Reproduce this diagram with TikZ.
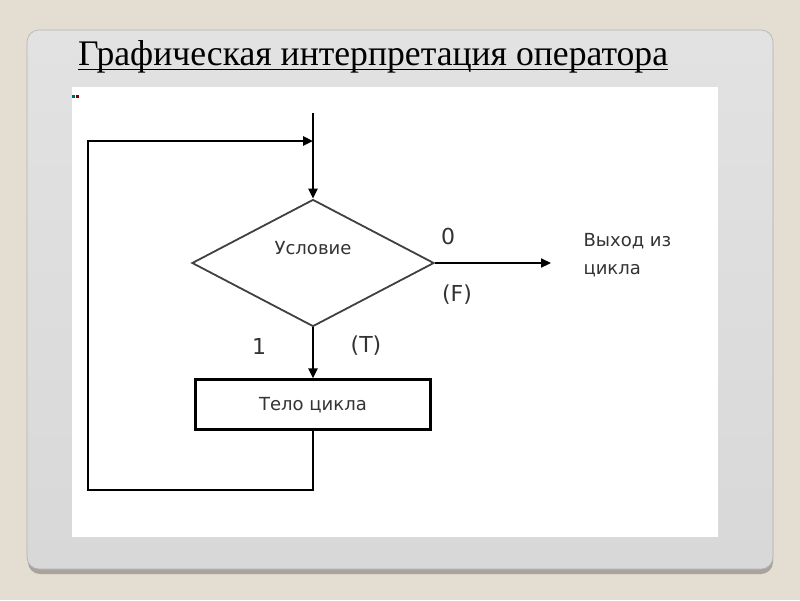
\documentclass[tikz,border=0pt]{standalone}
\usepackage{fontspec}
\setmainfont{Liberation Serif}
\newfontfamily\diagfont{DejaVu Sans}
\usetikzlibrary{shapes.geometric, arrows.meta, positioning, calc}
\definecolor{pagebg}{HTML}{E4DDD2}
\definecolor{panelshadow}{HTML}{A8A49C}
\definecolor{paneltop}{HTML}{E2E2E2}
\definecolor{panelbot}{HTML}{D8D8D8}

\begin{document}
\begin{tikzpicture}[
    x=1pt, y=-1pt,
    every node/.style={font=\diagfont\fontsize{18}{28}\selectfont, text=black!80},
    cond/.style={diamond, draw=black!75, line width=1.8pt,
                 minimum width=242pt, minimum height=127pt, inner sep=0pt},
    block/.style={rectangle, draw=black, line width=2.6pt,
                  minimum width=235pt, minimum height=50pt, inner sep=0pt},
    lbl/.style={font=\diagfont\fontsize{22}{24}\selectfont},
    arr/.style={-{Triangle[length=10pt, width=9pt]}, line width=2.2pt, black},
    line/.style={line width=2.6pt, black}
  ]
  % slide background
  \useasboundingbox (0,0) rectangle (800,600);
  \fill[pagebg] (0,0) rectangle (800,600);
  \fill[panelshadow, rounded corners=12pt] (28,36) rectangle (773,574);
  \shade[top color=paneltop, bottom color=panelbot, rounded corners=12pt,
         draw=black!30, line width=0.6pt] (27,30) rectangle (773,569);
  \fill[white] (72,87) rectangle (718,537);
  \fill[teal!80!black] (72,95) rectangle (75,98);
  \fill[red!50!black] (76,95) rectangle (79,98);

  % title
  \node[anchor=base west, inner sep=0pt, text=black,
        font=\fontsize{36}{40}\selectfont] (title) at (78,65)
        {\scalebox{0.99}[1]{Графическая интерпретация оператора}};
  \draw[line width=1.8pt] ([yshift=-4.5pt]title.base west)
        -- ([yshift=-4.5pt]title.base east);

  % flowchart
  \node[cond] (cond) at (313,263) {};
  \node (condtxt) at ([yshift=15pt]cond.center) {Условие};
  \node[block, below=51pt of cond] (body) {Тело цикла};

  \coordinate (entry)  at (313,113);
  \coordinate (exit)   at (551,263);
  \coordinate (loopbl) at (88,490);
  \coordinate (looptl) at (88,141);

  \node[anchor=north west, align=left] (exittxt) at (580,230)
        {Выход из\\цикла};
  \node[lbl] (zero)  at (448,236) {0};
  \node[lbl] (false) at (457,295) {(F)};
  \node[lbl] (one)   at (259,346) {1};
  \node[lbl] (true)  at (366,346) {(T)};

  \draw[arr]  (entry) -- (cond.north);
  \draw[arr]  (cond.east) -- (exit);
  \draw[arr]  (cond.south) -- (body.north);
  \draw[arr, line width=2.6pt] (body.south) |- (loopbl) -- (looptl)
        -- (looptl -| cond.north);
\end{tikzpicture}
\end{document}
